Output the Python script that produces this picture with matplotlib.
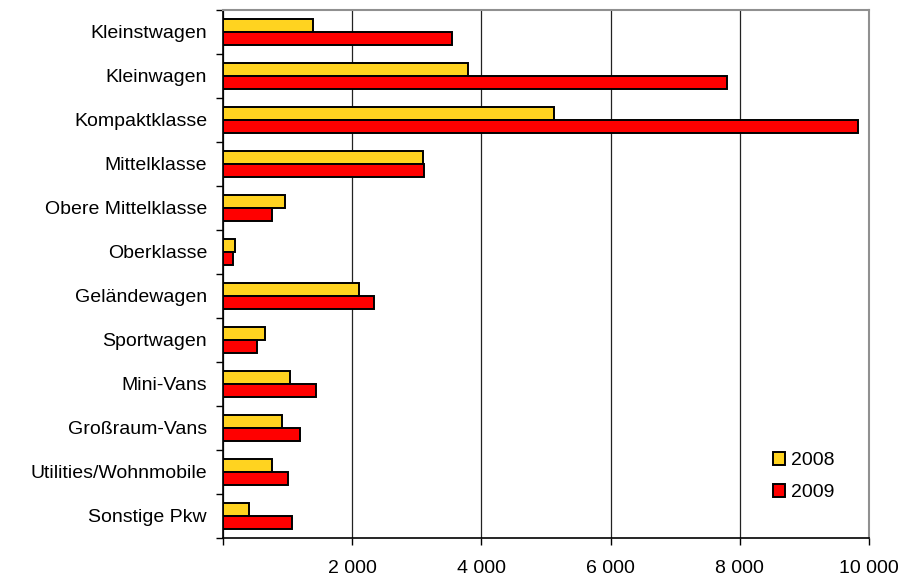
import numpy as np
import matplotlib.pyplot as plt
from matplotlib.ticker import FuncFormatter

plt.rcParams['font.family'] = ['Liberation Sans', 'DejaVu Sans']

# Neuzulassungen nach Segment
segmente = ["Kleinstwagen", "Kleinwagen", "Kompaktklasse", "Mittelklasse",
            "Obere Mittelklasse", "Oberklasse", "Geländewagen", "Sportwagen",
            "Mini-Vans", "Großraum-Vans", "Utilities/Wohnmobile", "Sonstige Pkw"]
werte_2008 = [1400, 3800, 5130, 3090, 955, 190, 2100, 655, 1040, 915, 765, 410]
werte_2009 = [3545, 7800, 9835, 3105, 755, 155, 2330, 530, 1435, 1195, 1005, 1065]
jahre = ["2008", "2009"]
xticks = [0, 2000, 4000, 6000, 8000, 10000]

fs = 14

fig = plt.figure(figsize=(9.04, 5.86), dpi=100)
ax = fig.add_axes([223 / 904, 1 - 538 / 586, 646 / 904, 528 / 586])

y = np.arange(len(segmente))
h = 0.285
ax.barh(y - h / 2, werte_2008, height=h, color='#FFD320', edgecolor='black',
        linewidth=1.4, label=jahre[0], zorder=3)
ax.barh(y + h / 2, werte_2009, height=h, color='#FF0000', edgecolor='black',
        linewidth=1.4, label=jahre[1], zorder=3)

ax.set_ylim(len(segmente) - 0.5, -0.5)
ax.set_xlim(0, 10000)

# Kategorienamen mittig, Teilstriche zwischen den Kategorien
ax.set_yticks(y)
ax.set_yticklabels(segmente, fontsize=fs)
ax.set_yticks(np.arange(-0.5, len(segmente)), minor=True)
ax.tick_params(axis='y', which='major', length=0, pad=11.5)
ax.tick_params(axis='y', which='minor', length=5, width=1, direction='out')

ax.set_xticks(xticks)
ax.xaxis.set_major_formatter(FuncFormatter(
    lambda v, p: '' if v == 0 else f"{int(v):,}".replace(',', ' ')))
ax.tick_params(axis='x', length=5, width=1, direction='out', pad=11,
               labelsize=fs)

ax.grid(axis='x', color='#222222', linewidth=0.9, zorder=0)
ax.set_axisbelow(True)

for s in ['left', 'bottom']:
    ax.spines[s].set_color('black')
    ax.spines[s].set_linewidth(1.2)
for s in ['top', 'right']:
    ax.spines[s].set_color('#909090')
    ax.spines[s].set_linewidth(1.5)

ax.legend(loc='center left', bbox_to_anchor=(0.851, 0.116), frameon=False,
          fontsize=fs, borderaxespad=0, borderpad=0, handlelength=0.62,
          handleheight=0.62, handletextpad=0.3, labelspacing=0.75)

fig.savefig('out.png', dpi=100)
